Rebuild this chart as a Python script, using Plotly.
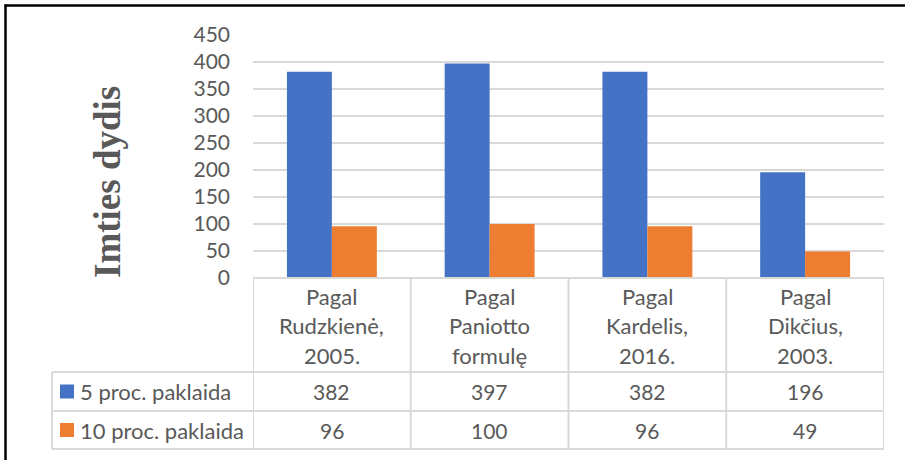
import plotly.graph_objects as go

categories = ["Pagal\nRudzkienė,\n2005.", "Pagal\nPaniotto\nformulę", "Pagal\nKardelis,\n2016.", "Pagal\nDikčius,\n2003."]
series_names = ["5 proc. paklaida", "10 proc. paklaida"]
values_5 = [382, 397, 382, 196]
values_10 = [96, 100, 96, 49]
colors = ["#4472C4", "#ED7D31"]
y_ticks = [0, 50, 100, 150, 200, 250, 300, 350, 400, 450]
y_title = "Imties dydis"

W, H = 910, 460
L, R, T, B = 253, 884, 35, 278  # plot area in pixels
TXT = "#595959"
GRID = "#d9d9d9"
FONT = "Lato"
FS_WORD = 22
FS_NUM = 21

def px_x(x):
    return (x - L) / (R - L)

def px_y(y):
    return (B - y) / (B - T)

fig = go.Figure()
idx = list(range(len(categories)))
for name, vals, col in zip(series_names, [values_5, values_10], colors):
    fig.add_trace(go.Bar(x=idx, y=vals, name=name, marker_color=col,
                         marker_line_width=0, showlegend=False))

fig.update_layout(
    width=W, height=H,
    margin=dict(l=L, r=W - R, t=T, b=H - B),
    paper_bgcolor="white", plot_bgcolor="white",
    barmode="group", bargap=0.43, bargroupgap=0,
    font=dict(family=FONT, color=TXT, size=FS_NUM),
    xaxis=dict(range=[-0.5, len(categories) - 0.5], showticklabels=False,
               showgrid=False, zeroline=False, showline=False, fixedrange=True),
    yaxis=dict(range=[0, 450], tickvals=y_ticks, showgrid=True, gridcolor=GRID,
               gridwidth=1.5, zeroline=False, showline=False,
               ticklabelstandoff=22, tickfont=dict(size=FS_NUM, color=TXT, family=FONT)),
)

shapes = []
line = dict(color=GRID, width=2)
row_tops = [B, 372, 411, 449]
shapes.append(dict(type="line", xref="paper", yref="paper", x0=px_x(L), x1=px_x(R),
                   y0=px_y(B), y1=px_y(B), line=line))
for y in row_tops[1:]:
    shapes.append(dict(type="line", xref="paper", yref="paper", x0=px_x(52), x1=px_x(R),
                       y0=px_y(y), y1=px_y(y), line=line))
for i in range(len(categories) + 1):
    shapes.append(dict(type="line", xref="x", yref="paper", x0=i - 0.5, x1=i - 0.5,
                       y0=px_y(B), y1=px_y(449), line=line))
shapes.append(dict(type="line", xref="paper", yref="paper", x0=px_x(52), x1=px_x(52),
                   y0=px_y(372), y1=px_y(449), line=line))
for k, col in enumerate(colors):
    yc = (row_tops[1 + k] + row_tops[2 + k]) / 2
    shapes.append(dict(type="rect", xref="paper", yref="paper", x0=px_x(60), x1=px_x(74),
                       y0=px_y(yc + 7), y1=px_y(yc - 7), fillcolor=col, line_width=0))
# outer border: top and left edges visible
border = dict(color="black", width=2.5)
shapes.append(dict(type="line", xref="paper", yref="paper", x0=px_x(4.5), x1=px_x(905),
                   y0=px_y(5.5), y1=px_y(5.5), line=border))
shapes.append(dict(type="line", xref="paper", yref="paper", x0=px_x(5.5), x1=px_x(5.5),
                   y0=px_y(4.5), y1=px_y(470), line=border))
fig.update_layout(shapes=shapes)

ann = []
line_ys = [296, 325, 355]
for i, c in enumerate(categories):
    for j, part in enumerate(c.split("\n")):
        ann.append(dict(x=i, xref="x", y=px_y(line_ys[j]), yref="paper", text=part,
                        showarrow=False, xanchor="center", yanchor="middle",
                        font=dict(size=FS_WORD, color=TXT, family=FONT)))
for k, vals in enumerate([values_5, values_10]):
    yc = (row_tops[1 + k] + row_tops[2 + k]) / 2
    for i, v in enumerate(vals):
        ann.append(dict(x=i, xref="x", y=px_y(yc), yref="paper", text=str(v),
                        showarrow=False, xanchor="center", yanchor="middle",
                        font=dict(size=FS_NUM, color=TXT, family=FONT)))
    ann.append(dict(x=px_x(78), xref="paper", y=px_y(yc), yref="paper", text=series_names[k],
                    showarrow=False, xanchor="left", yanchor="middle",
                    font=dict(size=FS_WORD, color=TXT, family=FONT)))
ann.append(dict(x=px_x(107), xref="paper", y=px_y(182), yref="paper", text="<b>" + y_title + "</b>",
                showarrow=False, textangle=-90, xanchor="center", yanchor="middle",
                font=dict(size=37, color=TXT, family="Liberation Serif")))
fig.update_layout(annotations=ann)

fig.write_html("out.html", config={"displayModeBar": False},
               post_script="document.body.style.margin='0';")
